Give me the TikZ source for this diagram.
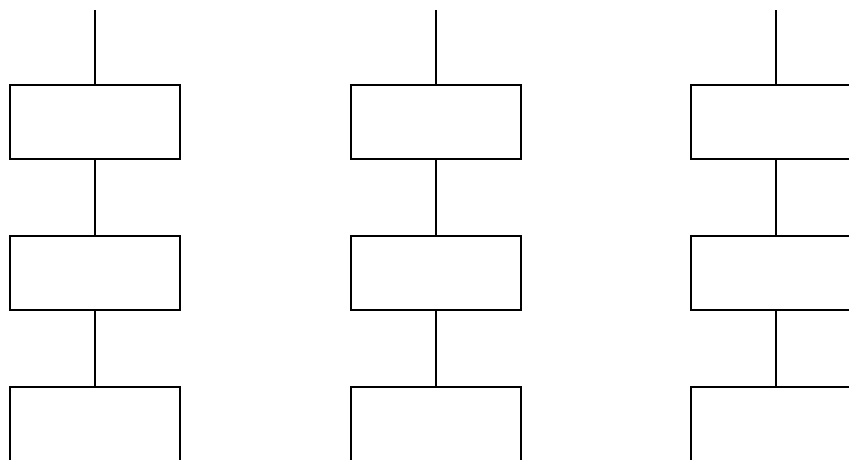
\documentclass[tikz,border=0pt]{standalone}
\begin{document}
\begin{tikzpicture}[x=1pt,y=-1pt,
  blk/.style={draw=black, line width=2pt, minimum width=170pt, minimum height=74pt, inner sep=0pt, fill=white},
  link/.style={draw=black, line width=2pt}]
\useasboundingbox (0,0) rectangle (849,459);
\clip (0,0) rectangle (849,459);
\fill[white] (0,0) rectangle (849,459);
\foreach \c/\x in {a/95,b/435.5,c/776}{
  \node[blk] (\c1) at (\x,122) {};
  \node[blk] (\c2) at (\x,273) {};
  \node[blk] (\c3) at (\x,424) {};
  \coordinate (\c0) at (\x,10);
  \draw[link] (\c0) -- (\c1.north);
  \draw[link] (\c1.south) -- (\c2.north);
  \draw[link] (\c2.south) -- (\c3.north);
}
\end{tikzpicture}
\end{document}
